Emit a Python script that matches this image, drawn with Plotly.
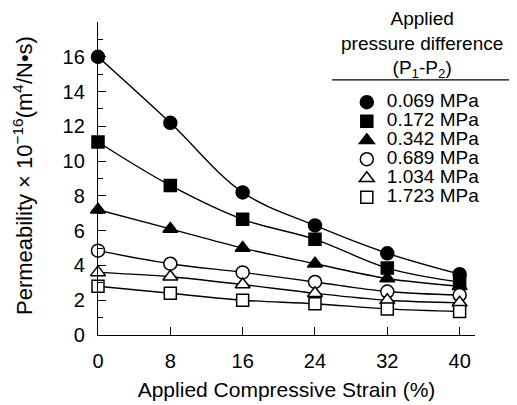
import plotly.graph_objects as go

# ---- data ----
strain = [0, 8, 16, 24, 32, 40]
pressure_labels = ["0.069 MPa", "0.172 MPa", "0.342 MPa", "0.689 MPa", "1.034 MPa", "1.723 MPa"]
perm_0069 = [16.0, 12.2, 8.2, 6.3, 4.7, 3.5]
perm_0172 = [11.1, 8.6, 6.65, 5.5, 3.85, 3.05]
perm_0342 = [7.2, 6.1, 5.0, 4.1, 3.25, 2.8]
perm_0689 = [4.85, 4.1, 3.6, 3.05, 2.5, 2.3]
perm_1034 = [3.6, 3.35, 2.9, 2.4, 2.0, 1.85]
perm_1723 = [2.8, 2.4, 2.0, 1.8, 1.5, 1.35]
x_ticks = [0, 8, 16, 24, 32, 40]
y_ticks = [0, 2, 4, 6, 8, 10, 12, 14, 16]
legend_heading = "Applied<br>pressure difference<br>(P<sub>1</sub>-P<sub>2</sub>)"
y_title = "Permeability × 10<sup>−16</sup>(m<sup>4</sup>/N•s)"
x_title = "Applied Compressive Strain (%)"

series = [perm_0069, perm_0172, perm_0342, perm_0689, perm_1034, perm_1723]
symbols = ["circle", "square", "triangle-up", "circle", "triangle-up", "square"]
fills = ["black", "black", "black", "white", "white", "white"]
sizes = [13, 12, 13, 13, 13, 12]

FONT = "Liberation Sans, Arial, sans-serif"

fig = go.Figure()
for vals in series:
    fig.add_trace(go.Scatter(
        x=strain, y=vals, mode="lines", line=dict(color="black", width=1.4, shape="spline"),
        showlegend=False, cliponaxis=False, hoverinfo="skip"))

for vals, name, sym, fc, sz in zip(series, pressure_labels, symbols, fills, sizes):
    fig.add_trace(go.Scatter(
        x=strain, y=vals, mode="markers", name=f'<span style="font-size:19px">{name}</span>',
        marker=dict(symbol=sym, size=sz, color=fc, line=dict(color="black", width=1.5)),
        cliponaxis=False))

# the page has an 8px body margin, so the figure is drawn from (8, 8)
fig.update_layout(
    width=509, height=397,
    margin=dict(l=90, r=42, t=14, b=70, autoexpand=False),
    paper_bgcolor="white", plot_bgcolor="white",
    font=dict(family=FONT, color="black", size=20),
    legend=dict(
        x=0.66, y=0.79, xanchor="left", yanchor="top",
        bgcolor="rgba(0,0,0,0)", borderwidth=0,
        font=dict(size=12, family=FONT),
        tracegroupgap=0,
    ),
    xaxis=dict(
        range=[0, 41.7], tickvals=x_ticks, ticktext=[str(v) for v in x_ticks],
        showgrid=False, zeroline=False, showline=True, linecolor="black", linewidth=1.3,
        ticks="inside", ticklen=8, tickwidth=1.3, tickcolor="black",
        tickfont=dict(size=20), ticklabelstandoff=8,
        title=dict(text=x_title, font=dict(size=21), standoff=11),
    ),
    yaxis=dict(
        range=[0, 18], tickvals=y_ticks, ticktext=[str(v) for v in y_ticks],
        showgrid=False, zeroline=False, showline=True, linecolor="black", linewidth=1.3,
        ticks="inside", ticklen=8, tickwidth=1.3, tickcolor="black",
        minor=dict(dtick=1, ticks="inside", ticklen=5, tickwidth=1.2, tickcolor="black", showgrid=False),
        tickfont=dict(size=20), ticklabelstandoff=8,
    ),
    annotations=[
        dict(text=legend_heading, xref="paper", yref="paper", x=0.859, y=1.05,
             xanchor="center", yanchor="top", align="center", showarrow=False,
             font=dict(size=19, family=FONT)),
        dict(text=y_title, xref="paper", yref="paper", x=-0.199, y=0.511,
             xanchor="center", yanchor="middle", textangle=-90, showarrow=False,
             font=dict(size=22, family=FONT)),
    ],
    shapes=[dict(type="line", xref="paper", yref="paper", x0=0.621, x1=1.093, y0=0.815, y1=0.815,
                 line=dict(color="black", width=1.2))],
)

fig.write_html("out.html")
